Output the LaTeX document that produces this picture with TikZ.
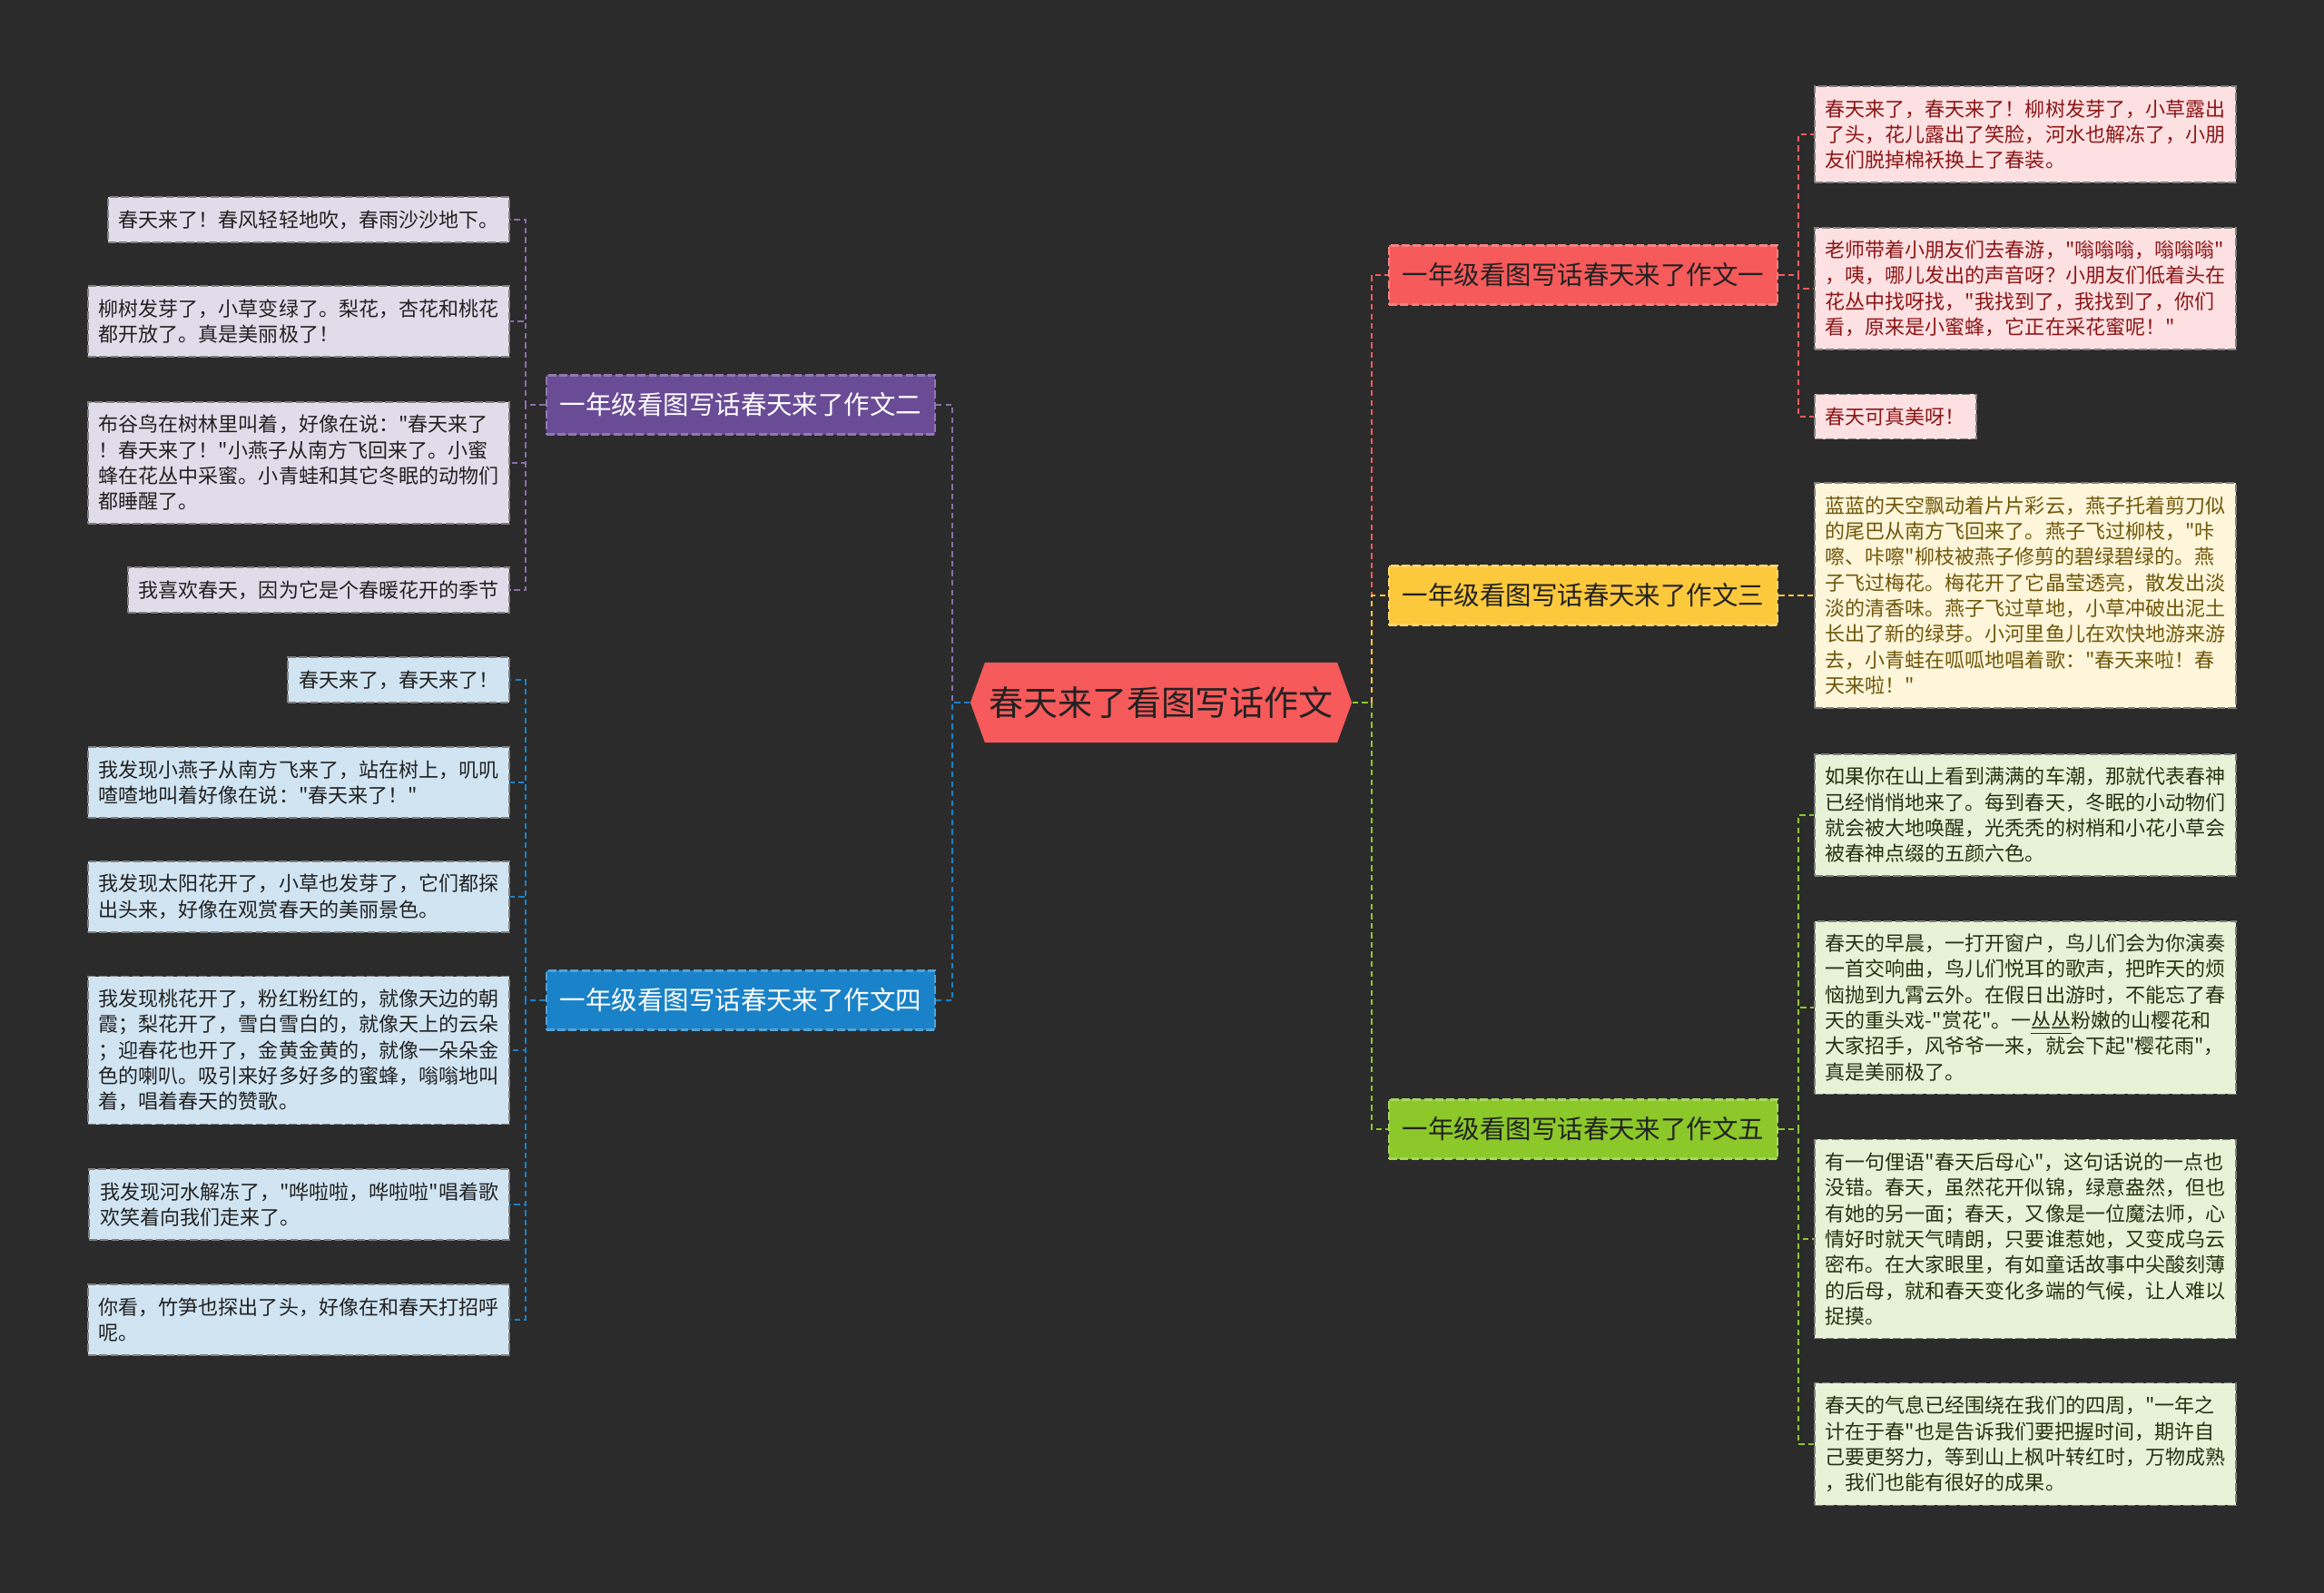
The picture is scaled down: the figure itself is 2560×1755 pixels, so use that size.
\documentclass[tikz,border=0pt]{standalone}
\usepackage{fontspec}
\newfontfamily\cjk{Noto Sans CJK SC}
\usepackage{tikz}
\usetikzlibrary{positioning, shapes.symbols}
\usepackage{xcolor}
\definecolor{bgdark}{RGB}{43, 43, 43}
\definecolor{inkdark}{RGB}{34, 34, 34}
\definecolor{redmain}{RGB}{246, 90, 91}
\definecolor{yellowmain}{RGB}{252, 200, 60}
\definecolor{greenmain}{RGB}{140, 200, 42}
\definecolor{purplemain}{RGB}{106, 76, 150}
\definecolor{bluemain}{RGB}{26, 130, 200}
\definecolor{redleaf}{RGB}{253, 224, 226}
\definecolor{yellowleaf}{RGB}{254, 246, 218}
\definecolor{greenleaf}{RGB}{232, 242, 214}
\definecolor{purpleleaf}{RGB}{224, 220, 234}
\definecolor{blueleaf}{RGB}{208, 228, 242}
\definecolor{redink}{RGB}{140, 22, 22}
\definecolor{yellowink}{RGB}{112, 86, 10}
\definecolor{greenink}{RGB}{38, 50, 20}

\tikzset{
  leaf/.style={draw=black!50, dash pattern=on 2.5pt off 1pt, line width=0.5pt,
    inner xsep=3.4pt, inner ysep=4.1pt, align=left, text=inkdark,
    font=\cjk\fontsize{6.26}{8.05}\selectfont},
  essay/.style={dash pattern=on 2.5pt off 1pt, line width=0.6pt,
    minimum width=4.28cm, minimum height=0.65cm, inner sep=0pt,
    font=\cjk\fontsize{8.1}{9.5}\selectfont},
  link/.style={line width=0.6pt, dash pattern=on 1.8pt off 1.2pt},
}

\begin{document}
\begin{tikzpicture}[x=0.01cm, y=-0.01cm]
    \useasboundingbox (0,0) rectangle (2560,1755);
    \fill[bgdark] (0,0) rectangle (2560,1755);

    % Root
    \node[signal, signal to=west and east, signal pointer angle=140, fill=redmain,
      minimum width=4.2cm, minimum height=0.88cm, inner sep=0pt, text=inkdark,
      font=\cjk\fontsize{10.8}{12}\selectfont] (hub) at (1279,774) {春天来了看图写话作文};

    % Essays
    \node[essay, fill=redmain, draw=redmain!75!white, text=inkdark] (essay1) at (1744,303) {一年级看图写话春天来了作文一};
    \node[essay, fill=yellowmain, draw=yellowmain!75!white, text=inkdark] (essay3) at (1744,656) {一年级看图写话春天来了作文三};
    \node[essay, fill=greenmain, draw=greenmain!75!white, text=inkdark] (essay5) at (1744,1244) {一年级看图写话春天来了作文五};
    \node[essay, fill=purplemain, draw=purplemain!75!white, text=white] (essay2) at (816,446) {一年级看图写话春天来了作文二};
    \node[essay, fill=bluemain, draw=bluemain!75!white, text=white] (essay4) at (816,1102) {一年级看图写话春天来了作文四};

    % Leaves of essay 1
    \node[leaf, fill=redleaf, text=redink, anchor=west] (essay1a) at (1998,148) {春天来了，春天来了！柳树发芽了，小草露出\\了头，花儿露出了笑脸，河水也解冻了，小朋\\友们脱掉棉袄换上了春装。};
    \node[leaf, fill=redleaf, text=redink, anchor=west] (essay1b) at (1998,318) {老师带着小朋友们去春游，"嗡嗡嗡，嗡嗡嗡"\\，咦，哪儿发出的声音呀？小朋友们低着头在\\花丛中找呀找，"我找到了，我找到了，你们\\看，原来是小蜜蜂，它正在采花蜜呢！"};
    \node[leaf, fill=redleaf, text=redink, anchor=west] (essay1c) at (1998,459) {春天可真美呀！};

    % Leaves of essay 3
    \node[leaf, fill=yellowleaf, text=yellowink, anchor=west] (essay3a) at (1998,656) {蓝蓝的天空飘动着片片彩云，燕子托着剪刀似\\的尾巴从南方飞回来了。燕子飞过柳枝，"咔\\嚓、咔嚓"柳枝被燕子修剪的碧绿碧绿的。燕\\子飞过梅花。梅花开了它晶莹透亮，散发出淡\\淡的清香味。燕子飞过草地，小草冲破出泥土\\长出了新的绿芽。小河里鱼儿在欢快地游来游\\去，小青蛙在呱呱地唱着歌："春天来啦！春\\天来啦！"};

    % Leaves of essay 5
    \node[leaf, fill=greenleaf, text=greenink, anchor=west] (essay5a) at (1998,898) {如果你在山上看到满满的车潮，那就代表春神\\已经悄悄地来了。每到春天，冬眠的小动物们\\就会被大地唤醒，光秃秃的树梢和小花小草会\\被春神点缀的五颜六色。};
    \node[leaf, fill=greenleaf, text=greenink, anchor=west] (essay5b) at (1998,1110) {春天的早晨，一打开窗户，鸟儿们会为你演奏\\一首交响曲，鸟儿们悦耳的歌声，把昨天的烦\\恼抛到九霄云外。在假日出游时，不能忘了春\\天的重头戏-"赏花"。一\underline{丛丛}粉嫩的山樱花和\\大家招手，风爷爷一来，就会下起"樱花雨"，\\真是美丽极了。};
    \node[leaf, fill=greenleaf, text=greenink, anchor=west] (essay5c) at (1998,1365) {有一句俚语"春天后母心"，这句话说的一点也\\没错。春天，虽然花开似锦，绿意盎然，但也\\有她的另一面；春天，又像是一位魔法师，心\\情好时就天气晴朗，只要谁惹她，又变成乌云\\密布。在大家眼里，有如童话故事中尖酸刻薄\\的后母，就和春天变化多端的气候，让人难以\\捉摸。};
    \node[leaf, fill=greenleaf, text=greenink, anchor=west] (essay5d) at (1998,1591) {春天的气息已经围绕在我们的四周，"一年之\\计在于春"也是告诉我们要把握时间，期许自\\己要更努力，等到山上枫叶转红时，万物成熟\\，我们也能有很好的成果。};

    % Leaves of essay 2
    \node[leaf, fill=purpleleaf, anchor=east] (essay2a) at (562,242) {春天来了！春风轻轻地吹，春雨沙沙地下。};
    \node[leaf, fill=purpleleaf, anchor=east] (essay2b) at (562,354) {柳树发芽了，小草变绿了。梨花，杏花和桃花\\都开放了。真是美丽极了！};
    \node[leaf, fill=purpleleaf, anchor=east] (essay2c) at (562,510) {布谷鸟在树林里叫着，好像在说："春天来了\\！春天来了！"小燕子从南方飞回来了。小蜜\\蜂在花丛中采蜜。小青蛙和其它冬眠的动物们\\都睡醒了。};
    \node[leaf, fill=purpleleaf, anchor=east] (essay2d) at (562,650) {我喜欢春天，因为它是个春暖花开的季节};

    % Leaves of essay 4
    \node[leaf, fill=blueleaf, anchor=east] (essay4a) at (562,749) {春天来了，春天来了！};
    \node[leaf, fill=blueleaf, anchor=east] (essay4b) at (562,862) {我发现小燕子从南方飞来了，站在树上，叽叽\\喳喳地叫着好像在说："春天来了！"};
    \node[leaf, fill=blueleaf, anchor=east] (essay4c) at (562,988) {我发现太阳花开了，小草也发芽了，它们都探\\出头来，好像在观赏春天的美丽景色。};
    \node[leaf, fill=blueleaf, anchor=east] (essay4d) at (562,1157) {我发现桃花开了，粉红粉红的，就像天边的朝\\霞；梨花开了，雪白雪白的，就像天上的云朵\\；迎春花也开了，金黄金黄的，就像一朵朵金\\色的喇叭。吸引来好多好多的蜜蜂，嗡嗡地叫\\着，唱着春天的赞歌。};
    \node[leaf, fill=blueleaf, anchor=east] (essay4e) at (562,1327) {我发现河水解冻了，"哗啦啦，哗啦啦"唱着歌\\欢笑着向我们走来了。};
    \node[leaf, fill=blueleaf, anchor=east] (essay4f) at (562,1454) {你看，竹笋也探出了头，好像在和春天打招呼\\呢。};

    % Links from root
    \draw[link, redmain] (hub.east) -- ++(21,0) |- (essay1.west);
    \draw[link, yellowmain] (hub.east) -- ++(21,0) |- (essay3.west);
    \draw[link, greenmain] (hub.east) -- ++(21,0) |- (essay5.west);
    \draw[link, purplemain!80!white] (hub.west) -- ++(-19,0) |- (essay2.east);
    \draw[link, bluemain] (hub.west) -- ++(-19,0) |- (essay4.east);

    % Links to leaves
    \draw[link, redmain] (essay1.east) -- ++(22,0) |- (essay1a.west);
    \draw[link, redmain] (essay1.east) -- ++(22,0) |- (essay1b.west);
    \draw[link, redmain] (essay1.east) -- ++(22,0) |- (essay1c.west);
    \draw[link, yellowmain] (essay3.east) -- (essay3a.west);
    \draw[link, greenmain] (essay5.east) -- ++(22,0) |- (essay5a.west);
    \draw[link, greenmain] (essay5.east) -- ++(22,0) |- (essay5b.west);
    \draw[link, greenmain] (essay5.east) -- ++(22,0) |- (essay5c.west);
    \draw[link, greenmain] (essay5.east) -- ++(22,0) |- (essay5d.west);
    \draw[link, purplemain!80!white] (essay2.west) -- ++(-22,0) |- (essay2a.east);
    \draw[link, purplemain!80!white] (essay2.west) -- ++(-22,0) |- (essay2b.east);
    \draw[link, purplemain!80!white] (essay2.west) -- ++(-22,0) |- (essay2c.east);
    \draw[link, purplemain!80!white] (essay2.west) -- ++(-22,0) |- (essay2d.east);
    \draw[link, bluemain] (essay4.west) -- ++(-22,0) |- (essay4a.east);
    \draw[link, bluemain] (essay4.west) -- ++(-22,0) |- (essay4b.east);
    \draw[link, bluemain] (essay4.west) -- ++(-22,0) |- (essay4c.east);
    \draw[link, bluemain] (essay4.west) -- ++(-22,0) |- (essay4d.east);
    \draw[link, bluemain] (essay4.west) -- ++(-22,0) |- (essay4e.east);
    \draw[link, bluemain] (essay4.west) -- ++(-22,0) |- (essay4f.east);
\end{tikzpicture}
\end{document}
